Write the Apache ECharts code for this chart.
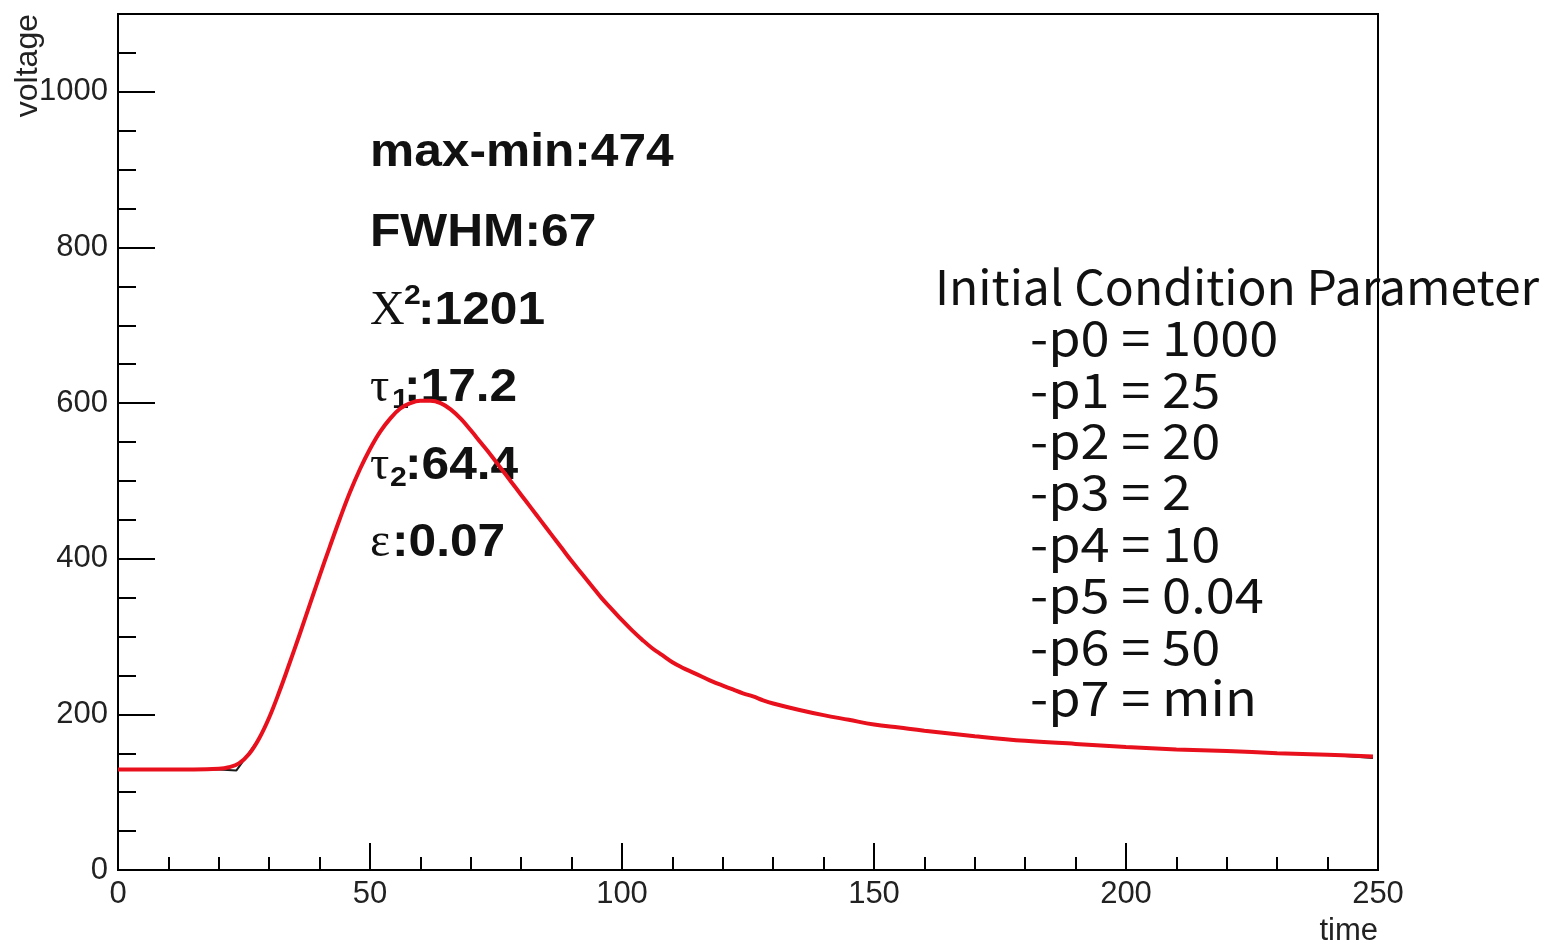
<!DOCTYPE html>
<html>
<head>
<meta charset="utf-8">
<title>voltage vs time</title>
<script src="https://cdn.jsdelivr.net/npm/echarts/dist/echarts.min.js"></script>
<style>
    html, body { margin: 0; padding: 0; background: #fff; }
    #main { width: 1545px; height: 946px; }
</style>
</head>
<body>
<div id="main"></div>
<script>
// 拟合曲线（红）: 点
var fitTime = [0, 5, 10, 15, 20, 22, 24, 26, 28, 30, 32, 34, 36, 38, 40, 42, 44, 46, 48, 50, 52, 54, 56, 58, 60, 62,
    64, 66, 68, 70, 72, 74, 76, 78, 80, 82, 84, 86, 88, 90, 92, 94, 96, 98, 100, 102, 104, 106, 108, 110, 112,
    114, 116, 118, 120, 122, 124, 126, 128, 130, 135, 140, 145, 150, 155, 160, 170, 180, 190, 200, 210, 220, 230, 240, 249];
var fitVoltage = [129, 129, 129, 129, 130, 132, 137, 149, 169, 196, 229, 265, 302, 340, 378, 415, 451, 485, 515, 541, 563, 580, 593, 600, 603, 603,
    600, 592, 580, 565, 549, 533, 516, 499, 482, 465, 448, 431, 414, 397, 381, 365, 349, 335, 321, 308, 296, 285, 276, 267, 260,
    254, 248, 242, 237, 232, 227, 223, 218, 214, 206, 199, 193, 187, 183, 179, 172, 166, 162, 158, 155, 153, 150, 148, 146];

// 波形数据（黑）
var dataTime = [0, 5, 10, 15, 20, 23.5, 25.5, 28, 30, 32, 34, 36, 38, 40, 42, 44, 46, 48, 50, 52, 54, 56, 58, 60, 62,
    64, 66, 68, 70, 72, 74, 76, 78, 80, 82, 84, 86, 88, 90, 92, 94, 96, 98, 100, 102, 104, 106, 108, 110, 112,
    114, 116, 118, 120, 122, 124, 126, 128, 130, 135, 140, 145, 150, 155, 160, 170, 180, 190, 200, 210, 220, 230, 240, 249];
var dataVoltage = [129, 129, 129, 129, 129, 128, 146, 169, 196, 229, 265, 302, 340, 378, 415, 451, 485, 515, 541, 563, 580, 593, 600, 603, 603,
    600, 592, 580, 565, 549, 533, 516, 499, 482, 465, 448, 431, 414, 397, 381, 365, 349, 335, 321, 308, 296, 285, 276, 267, 260,
    254, 248, 242, 237, 232, 227, 223, 218, 214, 206, 199, 193, 187, 183, 179, 172, 166, 162, 158, 155, 153, 150, 148, 144];

// 拟合结果
var fitLines = ['max-min:474', 'FWHM:67'];
var chi2 = '1201';
var tau1 = '17.2';
var tau2 = '64.4';
var eps = '0.07';

// 初始参数
var paramTitle = 'Initial Condition Parameter';
var paramLines = ['-p0 = 1000', '-p1 = 25', '-p2 = 20', '-p3 = 2', '-p4 = 10', '-p5 = 0.04', '-p6 = 50', '-p7 = min'];

var xTicks = { min: 0, max: 250, interval: 50 };
var yTicks = { min: 0, max: 1100, interval: 200, minor: 50 };

function zip (xs, ys) {
    return xs.map(function (x, i) { return [x, ys[i]]; });
}

var sans = 'Liberation Sans, Arial, sans-serif';
var serif = 'Liberation Serif, Times New Roman, serif';
var jp = 'Noto Sans CJK JP, sans-serif';
var stretch = 1.08;

function bold (text, x, y, size) {
    return {
        type: 'text', x: x, y: y, scaleX: stretch,
        style: { text: text, fill: '#111', font: 'bold ' + (size || 46) + 'px ' + sans, verticalAlign: 'middle' }
    };
}
function greek (text, x, y) {
    return {
        type: 'text', x: x, y: y,
        style: { text: text, fill: '#111', font: '48px ' + serif, verticalAlign: 'middle' }
    };
}

var graphics = [
    {
        type: 'text', x: 28, y: 14, rotation: Math.PI / 2,
        style: { text: 'voltage', fill: '#222', font: '32px ' + sans, align: 'right', verticalAlign: 'middle' }
    },
    {
        type: 'text', x: 1378, y: 931,
        style: { text: 'time', fill: '#222', font: '31px ' + sans, align: 'right', verticalAlign: 'middle' }
    },
    bold(fitLines[0], 370, 153),
    bold(fitLines[1], 370, 233),
    greek('X', 370, 311),
    bold('2', 404, 296, 28),
    bold(':' + chi2, 418, 311),
    greek('τ', 370, 388),
    bold('1', 392, 400, 28),
    bold(':' + tau1, 404, 388),
    greek('τ', 370, 466),
    bold('2', 390, 478, 28),
    bold(':' + tau2, 405, 466),
    greek('ε', 370, 543),
    bold(':' + eps, 392, 543),
    {
        type: 'text', x: 935, y: 287,
        style: { text: paramTitle, fill: '#111', font: '48px ' + jp, verticalAlign: 'middle' }
    }
];
paramLines.forEach(function (line, i) {
    graphics.push({
        type: 'text', x: 1030, y: 338 + i * 51.4, scaleX: 1.09,
        style: { text: line, fill: '#111', font: '48px ' + jp, verticalAlign: 'middle' }
    });
});

var tickStyle = { color: '#000', width: 2 };

var option = {
    animation: false,
    grid: {
        left: 118, right: 167, top: 14, bottom: 76,
        show: true, borderColor: '#000', borderWidth: 2
    },
    xAxis: {
        type: 'value',
        min: xTicks.min, max: xTicks.max, interval: xTicks.interval,
        axisLine: { onZero: false, lineStyle: tickStyle },
        axisTick: { inside: true, length: 27, lineStyle: tickStyle },
        minorTick: { show: true, splitNumber: 5, length: 13, lineStyle: tickStyle },
        axisLabel: { color: '#222', fontSize: 31, fontFamily: sans, margin: 9, formatter: function (v) { return String(v); } },
        splitLine: { show: false }
    },
    yAxis: [
        {
            type: 'value', position: 'left',
            min: yTicks.min, max: yTicks.max, interval: yTicks.interval,
            axisLine: { show: true, onZero: false, lineStyle: tickStyle },
            axisTick: { inside: true, length: 37, lineStyle: tickStyle },
            axisLabel: {
                color: '#222', fontSize: 31, fontFamily: sans, margin: 10, showMaxLabel: false,
                formatter: function (v) { return String(v); }
            },
            splitLine: { show: false }
        },
        {
            // 小刻度
            type: 'value', position: 'left',
            min: yTicks.min, max: yTicks.max, interval: yTicks.minor,
            axisLine: { show: false },
            axisTick: { inside: true, length: 18, lineStyle: tickStyle },
            axisLabel: { show: false },
            splitLine: { show: false }
        }
    ],
    graphic: graphics,
    series: [
        {
            name: 'data', type: 'line', z: 2,
            data: zip(dataTime, dataVoltage),
            showSymbol: false,
            lineStyle: { color: '#1a1a1a', width: 2 }
        },
        {
            name: 'fit', type: 'line', z: 3,
            data: zip(fitTime, fitVoltage),
            showSymbol: false, smooth: 0.4,
            lineStyle: { color: '#e8101c', width: 4 }
        }
    ]
};

var myChart = echarts.init(document.getElementById('main'));
myChart.setOption(option);
</script>
</body>
</html>
